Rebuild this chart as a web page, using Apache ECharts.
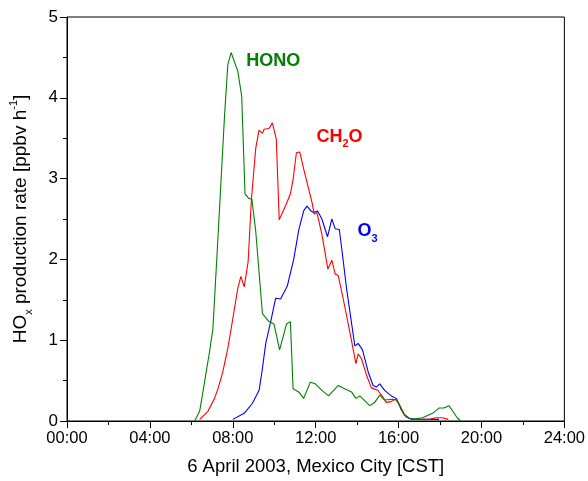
<!DOCTYPE html>
<html>
<head>
<meta charset="utf-8">
<script src="https://cdn.jsdelivr.net/npm/echarts@6/dist/echarts.min.js"></script>
<style>
  html, body { margin: 0; padding: 0; background: #fff; }
  #chart { width: 588px; height: 481px; }
</style>
</head>
<body>
<div id="chart"></div>
<script>
// time in hours (CST), rate in ppbv/h
var honoTime = [6.16, 6.4, 6.56, 6.72, 6.88, 7.04, 7.28, 7.6, 7.76, 7.92, 8.24, 8.43, 8.59, 8.79, 8.92, 9.11, 9.43, 9.75, 9.99, 10.26, 10.59, 10.78, 10.91, 11.18, 11.42, 11.74, 11.98, 12.3, 12.62, 13.09, 13.4, 13.73, 13.94, 14.13, 14.61, 14.85, 15.09, 15.33, 15.72, 15.93, 16.12, 16.36, 16.68, 17.16, 17.64, 17.95, 18.19, 18.43, 18.62, 18.83, 18.99]
var honoValues = [0.0, 0.12, 0.36, 0.61, 0.86, 1.14, 2.25, 3.77, 4.41, 4.56, 4.33, 4.02, 2.81, 2.75, 2.75, 2.34, 1.33, 1.23, 1.2, 0.88, 1.2, 1.23, 0.40, 0.36, 0.28, 0.48, 0.46, 0.38, 0.31, 0.44, 0.40, 0.36, 0.28, 0.31, 0.19, 0.23, 0.32, 0.26, 0.27, 0.26, 0.14, 0.05, 0.02, 0.04, 0.095, 0.16, 0.16, 0.19, 0.12, 0.04, 0.0]

var ch2oTime = [6.4, 6.8, 7.12, 7.31, 7.52, 7.76, 7.92, 8.24, 8.39, 8.55, 8.74, 8.9, 9.11, 9.27, 9.43, 9.51, 9.75, 9.91, 10.1, 10.24, 10.54, 10.78, 10.91, 11.07, 11.23, 11.42, 11.82, 11.93, 12.06, 12.3, 12.59, 12.78, 12.94, 13.09, 13.33, 13.65, 13.94, 14.05, 14.21, 14.45, 14.69, 15.0, 15.17, 15.41, 15.64, 15.85, 16.04, 16.28, 16.6, 17.48, 17.8, 18.11, 18.4]
var ch2oValues = [0.02, 0.12, 0.28, 0.42, 0.61, 0.9, 1.14, 1.64, 1.79, 1.66, 1.97, 2.75, 3.38, 3.6, 3.56, 3.61, 3.62, 3.69, 3.49, 2.49, 2.66, 2.81, 2.99, 3.32, 3.33, 3.12, 2.71, 2.56, 2.58, 2.31, 1.88, 1.99, 1.82, 1.8, 1.51, 1.1, 0.71, 0.83, 0.77, 0.57, 0.41, 0.38, 0.32, 0.23, 0.24, 0.27, 0.2, 0.08, 0.02, 0.02, 0.04, 0.04, 0.02]

var o3Time = [8.0, 8.55, 8.95, 9.11, 9.27, 9.43, 9.59, 9.83, 10.07, 10.31, 10.63, 10.94, 11.18, 11.42, 11.58, 11.77, 11.9, 12.09, 12.3, 12.57, 12.78, 12.94, 13.14, 13.25, 13.49, 13.89, 14.05, 14.26, 14.53, 14.77, 14.93, 15.09, 15.33, 15.65, 15.89, 16.04, 16.28, 16.52, 17.0, 17.95]
var o3Values = [0.02, 0.095, 0.22, 0.3, 0.38, 0.65, 0.96, 1.23, 1.52, 1.51, 1.67, 2.0, 2.36, 2.6, 2.66, 2.6, 2.58, 2.6, 2.5, 2.28, 2.5, 2.38, 2.37, 2.15, 1.64, 0.93, 0.96, 0.88, 0.61, 0.44, 0.42, 0.46, 0.38, 0.31, 0.28, 0.2, 0.074, 0.03, 0.02, 0.02]

var xTicks = [0, 4, 8, 12, 16, 20, 24]

function pairs(t, v) {
    return t.map(function (x, i) { return [x, v[i]] })
}

var chartDom = document.getElementById("chart")
var myChart = echarts.init(chartDom)

var font = "Liberation Sans, Arial, sans-serif"

function tag(text, coord, color, rich) {
    return {
        silent: true,
        symbol: "circle",
        symbolSize: 0,
        data: [{
            coord: coord,
            label: {
                show: true,
                position: "inside",
                formatter: text,
                color: color,
                fontFamily: font,
                fontWeight: "bold",
                fontSize: 18,
                rich: rich
            }
        }]
    }
}

var subRich = function (color) {
    return {
        b: { fontSize: 18, fontWeight: "bold", color: color, fontFamily: font, lineHeight: 26 },
        s: { fontSize: 11, fontWeight: "bold", color: color, fontFamily: font, lineHeight: 12, verticalAlign: "bottom" }
    }
}

var option = {
    animation: false,
    grid: {
        left: 64,
        right: 22,
        top: 17,
        bottom: 58,
        show: true,
        borderColor: "#000",
        borderWidth: 1
    },
    xAxis: {
        type: "value",
        min: 0,
        max: 24,
        interval: 4,
        name: "6 April 2003, Mexico City [CST]",
        nameLocation: "middle",
        nameGap: 36,
        nameTextStyle: { fontFamily: font, fontSize: 18.5, color: "#000" },
        axisLine: { show: true, onZero: false, lineStyle: { color: "#000", width: 1 } },
        axisTick: { show: true, inside: false, length: 7, lineStyle: { color: "#000" } },
        minorTick: { show: true, splitNumber: 2, length: 4, lineStyle: { color: "#000" } },
        splitLine: { show: false },
        axisLabel: {
            fontFamily: font,
            fontSize: 16.5,
            color: "#000",
            margin: 9,
            formatter: function (v) {
                if (xTicks.indexOf(v) < 0) return ""
                return (v < 10 ? "0" + v : v) + ":00"
            }
        }
    },
    yAxis: {
        type: "value",
        min: 0,
        max: 5,
        interval: 1,
        name: "{n|HO}{s|x}{n| production rate [ppbv h}{p|-1}{n|]}",
        nameLocation: "middle",
        nameGap: 33,
        nameTextStyle: {
            fontFamily: font,
            fontSize: 19,
            color: "#000",
            rich: {
                n: { fontFamily: font, fontSize: 19, color: "#000", lineHeight: 26 },
                s: { fontFamily: font, fontSize: 11, color: "#000", lineHeight: 12, verticalAlign: "bottom" },
                p: { fontFamily: font, fontSize: 11, color: "#000", lineHeight: 12, verticalAlign: "top" }
            }
        },
        axisLine: { show: true, lineStyle: { color: "#000", width: 1 } },
        axisTick: { show: true, inside: false, length: 7, lineStyle: { color: "#000" } },
        minorTick: { show: true, splitNumber: 2, length: 4, lineStyle: { color: "#000" } },
        splitLine: { show: false },
        axisLabel: { fontFamily: font, fontSize: 17, color: "#000", margin: 9 }
    },
    series: [
        {
            name: "O3",
            type: "line",
            data: pairs(o3Time, o3Values),
            showSymbol: false,
            lineStyle: { color: "#0000ff", width: 1.1 },
            itemStyle: { color: "#0000ff" },
            markPoint: tag("{b|O}{s|3}", [14.5, 2.35], "#0000ff", subRich("#0000ff"))
        },
        {
            name: "CH2O",
            type: "line",
            data: pairs(ch2oTime, ch2oValues),
            showSymbol: false,
            lineStyle: { color: "#ff0000", width: 1.1 },
            itemStyle: { color: "#ff0000" },
            markPoint: tag("{b|CH}{s|2}{b|O}", [13.15, 3.52], "#ff0000", subRich("#ff0000"))
        },
        {
            name: "HONO",
            type: "line",
            data: pairs(honoTime, honoValues),
            showSymbol: false,
            lineStyle: { color: "#008000", width: 1.1 },
            itemStyle: { color: "#008000" },
            markPoint: tag("HONO", [9.95, 4.45], "#008000", {})
        }
    ]
}

myChart.setOption(option)
</script>
</body>
</html>
